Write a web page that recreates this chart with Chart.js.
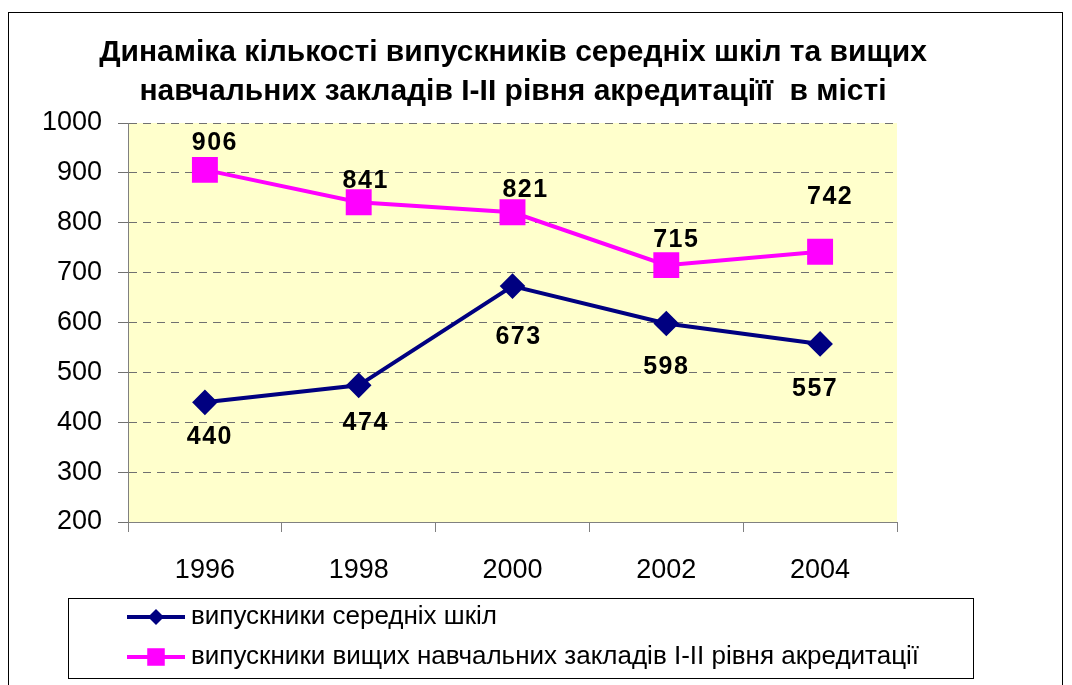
<!DOCTYPE html>
<html>
<head>
<meta charset="utf-8">
<script src="https://cdn.jsdelivr.net/npm/chart.js@4"></script>
<style>
  html, body { margin: 0; padding: 0; background: #fff; }
  #wrap { width: 1072px; height: 685px; }
</style>
</head>
<body>
<div id="wrap"><canvas id="chart" width="1072" height="685"></canvas></div>
<script>
// ---- data ----
const years = ["1996", "1998", "2000", "2002", "2004"];
const schoolGrads = [440, 474, 673, 598, 557];
const collegeGrads = [906, 841, 821, 715, 742];
const yTicks = [200, 300, 400, 500, 600, 700, 800, 900, 1000];

const titleLines = [
  "Динаміка кількості випускників середніх шкіл та вищих",
  "навчальних закладів І-ІІ рівня акредитаціїї  в місті"
];
const seriesNames = [
  "випускники середніх шкіл",
  "випускники вищих навчальних закладів І-ІІ рівня акредитації"
];

// label offsets (dx, dy) from each point, same order as the data
const schoolLabelOffsets = [[5, 35], [7, 38], [6, 51], [0, 44], [-5, 45]];
const collegeLabelOffsets = [[10, -27], [7, -21], [13, -22], [10, -25], [10, -55]];

const FONT = "'Liberation Sans', Arial, sans-serif";

// ================= PLUGINS =================
const frame = {
  id: "frame",
  beforeDraw(chart) {
    const { ctx, chartArea: a } = chart;
    ctx.save();
    ctx.fillStyle = "#fff";
    ctx.fillRect(0, 0, chart.width, chart.height);
    // plot background
    ctx.fillStyle = "#FFFFCC";
    ctx.fillRect(a.left, a.top, a.right - a.left, a.bottom - a.top);
    ctx.restore();
  },
  afterDraw(chart) {
    const { ctx } = chart;
    ctx.save();
    // outer border
    ctx.strokeStyle = "#000";
    ctx.lineWidth = 1;
    ctx.strokeRect(8.5, 12.5, 1054, 700);

    // title
    ctx.fillStyle = "#000";
    ctx.font = "bold 30px " + FONT;
    ctx.textAlign = "center";
    ctx.textBaseline = "middle";
    ctx.fillText(titleLines[0], 513, 53);
    ctx.fillText(titleLines[1], 513, 92);

    // legend
    ctx.strokeStyle = "#000";
    ctx.strokeRect(68.5, 598.5, 905, 80);
    const rows = [617, 657];
    chart.data.datasets.forEach((ds, i) => {
      const y = rows[i];
      ctx.strokeStyle = ds.borderColor;
      ctx.lineWidth = ds.borderWidth;
      ctx.beginPath();
      ctx.moveTo(127, y);
      ctx.lineTo(185, y);
      ctx.stroke();
      ctx.fillStyle = ds.pointBackgroundColor;
      Chart.helpers.drawPoint(ctx, {
        pointStyle: ds.pointStyle,
        radius: ds.pointRadius * 0.8,
        borderWidth: 0
      }, 156, y);
      ctx.fillStyle = "#000";
      ctx.font = "26px " + FONT;
      ctx.textAlign = "left";
      ctx.textBaseline = "middle";
      ctx.fillText(seriesNames[i], 191, y);
    });
    ctx.restore();
  }
};

const valueLabels = {
  id: "valueLabels",
  afterDatasetsDraw(chart) {
    const { ctx } = chart;
    ctx.save();
    ctx.font = "bold 25px " + FONT;
    ctx.fillStyle = "#000";
    ctx.textAlign = "center";
    ctx.textBaseline = "middle";
    if ("letterSpacing" in ctx) ctx.letterSpacing = "1.5px";
    chart.data.datasets.forEach((ds, i) => {
      const meta = chart.getDatasetMeta(i);
      meta.data.forEach((pt, j) => {
        const [dx, dy] = ds.labelOffsets[j];
        ctx.fillText(String(ds.data[j]), pt.x + dx, pt.y + dy);
      });
    });
    ctx.restore();
  }
};

// ================= CHART =================
new Chart(document.getElementById("chart"), {
  type: "line",
  data: {
    labels: years,
    datasets: [
      {
        label: seriesNames[0],
        data: schoolGrads,
        borderColor: "#000080",
        backgroundColor: "#000080",
        pointBackgroundColor: "#000080",
        pointBorderColor: "#000080",
        borderWidth: 4,
        pointStyle: "rectRot",
        pointRadius: 10,
        pointHoverRadius: 10,
        tension: 0,
        labelOffsets: schoolLabelOffsets
      },
      {
        label: seriesNames[1],
        data: collegeGrads,
        borderColor: "#FF00FF",
        backgroundColor: "#FF00FF",
        pointBackgroundColor: "#FF00FF",
        pointBorderColor: "#FF00FF",
        borderWidth: 4,
        pointStyle: "rect",
        pointRadius: 15.5,
        pointHoverRadius: 15.5,
        tension: 0,
        labelOffsets: collegeLabelOffsets
      }
    ]
  },
  options: {
    responsive: false,
    animation: false,
    events: [],
    layout: { padding: { top: 123, left: 0, right: 175, bottom: 103 } },
    plugins: {
      legend: { display: false },
      title: { display: false },
      tooltip: { enabled: false }
    },
    scales: {
      x: {
        offset: true,
        grid: {
          offset: true,
          drawOnChartArea: false,
          drawTicks: true,
          tickLength: 10,
          color: "#808080"
        },
        border: { display: true, color: "#808080", width: 1 },
        ticks: {
          color: "#000",
          font: { family: FONT, size: 27 },
          padding: 22
        },
        afterFit(scale) { scale.height = 60; }
      },
      y: {
        min: 200,
        max: 1000,
        afterBuildTicks(scale) { scale.ticks = yTicks.map(v => ({ value: v })); },
        grid: {
          color: "#707070",
          drawTicks: true,
          tickLength: 10,
          tickBorderDash: [],
          lineWidth: 1
        },
        border: { display: true, color: "#808080", dash: [8, 6] },
        ticks: {
          color: "#000",
          font: { family: FONT, size: 27 },
          padding: 16,
          callback: v => String(v)
        },
        afterFit(scale) { scale.width = 128; }
      }
    }
  },
  plugins: [frame, valueLabels]
});
</script>
</body>
</html>
